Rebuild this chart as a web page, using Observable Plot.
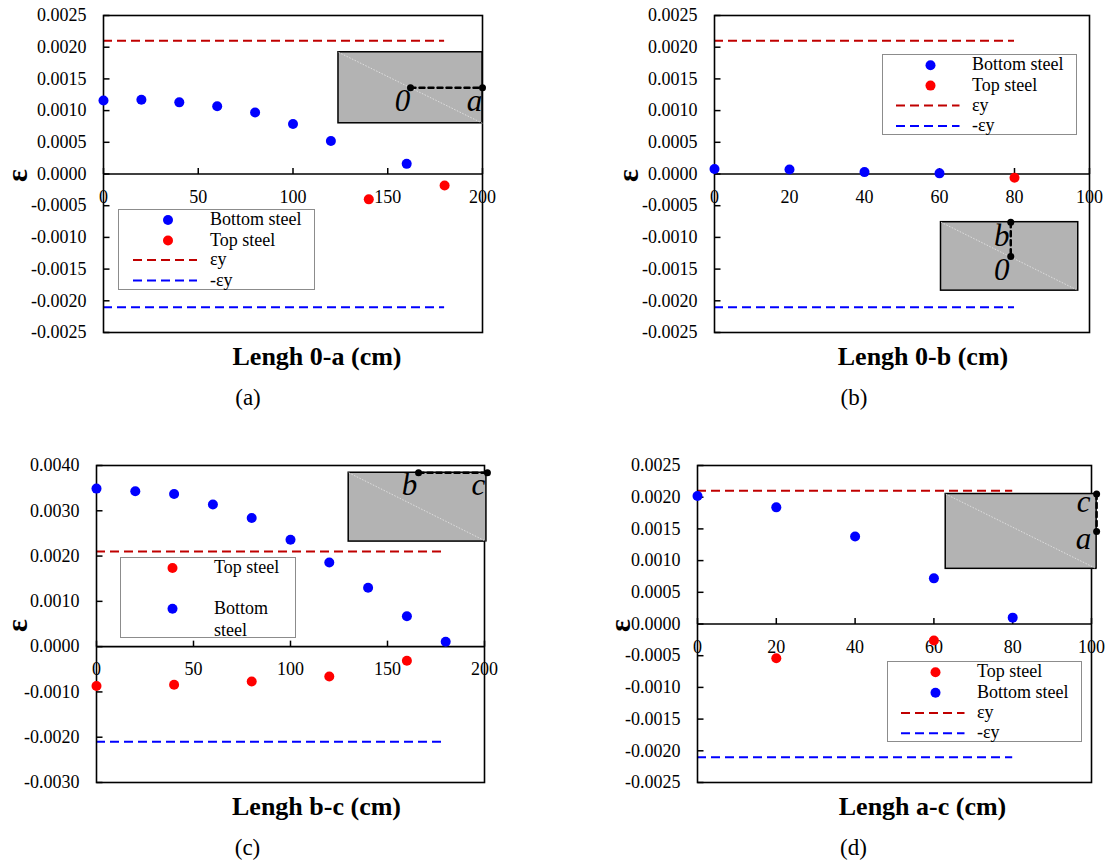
<!DOCTYPE html>
<html><head><meta charset="utf-8">
<script src="https://cdn.jsdelivr.net/npm/d3@7"></script>
<script src="https://cdn.jsdelivr.net/npm/@observablehq/plot@0.6"></script>
<style>
body{margin:0;background:#fff;}
#root{position:relative;width:1106px;height:868px;font-family:"Liberation Serif","DejaVu Serif",serif;background:#fff;}
.panel{position:absolute;}
.panel text{font-family:"Liberation Serif","DejaVu Serif",serif;}
.legend{position:absolute;border:1px solid #8c8c8c;background:#fff;box-sizing:border-box;}
.legend .lt{position:absolute;font-size:18px;line-height:22px;white-space:nowrap;color:#000;font-family:"Liberation Serif","DejaVu Serif",serif;}
.legend svg{position:absolute;left:0;top:0;overflow:visible;}
</style></head><body><div id="root"></div>
<script>
// ---------------- DATA ----------------
const yieldStrain = 0.0021;

// Panel (a): Lengh 0-a
const xBottomA = [0, 20, 40, 60, 80, 100, 120, 160];
const bottomA  = [0.00116, 0.00117, 0.00113, 0.00107, 0.00097, 0.00079, 0.00052, 0.00016];
const xTopA    = [140, 180];
const topA     = [-0.00040, -0.00018];
const yieldExtentA = [0, 180];

// Panel (b): Lengh 0-b
const xBottomB = [0, 20, 40, 60];
const bottomB  = [0.00008, 0.00007, 0.00003, 0.00001];
const xTopB    = [80];
const topB     = [-0.00006];
const yieldExtentB = [0, 80];

// Panel (c): Lengh b-c
const xBottomC = [0, 20, 40, 60, 80, 100, 120, 140, 160, 180];
const bottomC  = [0.00349, 0.00343, 0.00337, 0.00314, 0.00284, 0.00236, 0.00186, 0.00130, 0.00067, 0.00011];
const xTopC    = [0, 40, 80, 120, 160];
const topC     = [-0.00087, -0.00084, -0.00077, -0.00066, -0.00031];
const yieldExtentC = [0, 180];

// Panel (d): Lengh a-c
const xBottomD = [0, 20, 40, 60, 80];
const bottomD  = [0.00202, 0.00184, 0.00138, 0.00072, 0.00010];
const xTopD    = [20, 60];
const topD     = [-0.00054, -0.00026];
const yieldExtentD = [0, 80];

// Axis ticks
const yTicks25 = [-0.0025, -0.002, -0.0015, -0.001, -0.0005, 0, 0.0005, 0.001, 0.0015, 0.002, 0.0025];
const yTicksC  = [-0.003, -0.002, -0.001, 0, 0.001, 0.002, 0.003, 0.004];
const xTicks200 = [0, 50, 100, 150, 200];
const xTicks100 = [0, 20, 40, 60, 80, 100];

// Inset schematics (data units)
const insetRectA = {x1: 124, x2: 200, y1: 0.00080, y2: 0.00192};
const insetPtsA  = [{x: 162, y: 0.00136, label: "0"}, {x: 200, y: 0.00136, label: "a"}];
const insetRectB = {x1: 60.4, x2: 97, y1: -0.00184, y2: -0.00076};
const insetPtsB  = [{x: 79, y: -0.00076, label: "b"}, {x: 79, y: -0.00130, label: "0"}];
const insetRectC = {x1: 130, x2: 201, y1: 0.00232, y2: 0.00384};
const insetPtsC  = [{x: 166, y: 0.00384, label: "b"}, {x: 201.5, y: 0.00384, label: "c"}];
const insetRectD = {x1: 63, x2: 101.3, y1: 0.00087, y2: 0.00205};
const insetPtsD  = [{x: 101.3, y: 0.00205, label: "c"}, {x: 101.3, y: 0.00146, label: "a"}];

// Text
const titles   = ["Lengh 0-a (cm)", "Lengh 0-b (cm)", "Lengh b-c (cm)", "Lengh a-c (cm)"];
const captions = ["(a)", "(b)", "(c)", "(d)"];
const yLabel = "ε";
const seriesNames = {bottom: "Bottom steel", top: "Top steel", ey: "εy", ney: "-εy"};

// ---------------- STYLE ----------------
const BLUE = "#0000ff", RED = "#ff0000", DRED = "#c00000";
const FONT = "'Liberation Serif', 'DejaVu Serif', serif";

const tickRight = {draw(ctx) { ctx.moveTo(0, 0); ctx.lineTo(6, 0); }};
const tickUp = {draw(ctx) { ctx.moveTo(0, 0); ctx.lineTo(0, -6); }};

function pts(xs, ys) { return xs.map((x, i) => ({x, y: ys[i]})); }

function panel(cfg) {
  const marks = [
    Plot.ruleY([yieldStrain], {x1: cfg.extent[0], x2: cfg.extent[1], stroke: DRED, strokeWidth: 2, strokeDasharray: "9,5"}),
    Plot.ruleY([-yieldStrain], {x1: cfg.extent[0], x2: cfg.extent[1], stroke: BLUE, strokeWidth: 2, strokeDasharray: "9,5"}),
    Plot.ruleY([0], {stroke: "black", strokeWidth: 1.6}),
    Plot.frame({stroke: "black", strokeWidth: 1.6}),
    Plot.rect([cfg.rect], {x1: "x1", x2: "x2", y1: "y1", y2: "y2", fill: "#b3b3b3", stroke: "black", strokeWidth: 1.5}),
    Plot.link([cfg.rect], {x1: "x1", y1: "y2", x2: "x2", y2: "y1", stroke: "#e8e8e8", strokeWidth: 0.8, strokeDasharray: "1.5,1.5"}),
    Plot.line(cfg.insetPts, {x: "x", y: "y", stroke: "black", strokeWidth: 2.5, strokeDasharray: "5,4"}),
    Plot.dot(cfg.insetPts, {x: "x", y: "y", r: 3.5, fill: "black"}),
    Plot.text(cfg.insetPts, {x: "x", y: "y", text: "label", dx: cfg.labDx, dy: cfg.labDy, fontStyle: "italic", fontSize: 31, fill: "black"}),
    Plot.axisY(cfg.yTicks, {tickSize: 0, tickPadding: 17, tickFormat: (d) => d.toFixed(4), fontSize: 18, label: null}),
    Plot.dot(cfg.yTicks, {y: (d) => d, frameAnchor: "left", symbol: tickRight, fill: "none", stroke: "black", strokeWidth: 1.5}),
    Plot.dot(cfg.xTicks, {x: (d) => d, y: () => 0, symbol: tickUp, fill: "none", stroke: "black", strokeWidth: 1.5}),
    Plot.text(cfg.xTicks, {x: (d) => d, y: () => 0, dy: 23, text: (d) => String(d), fontSize: 18, fill: "black"}),
    Plot.dot(pts(cfg.xb, cfg.yb), {x: "x", y: "y", r: 5, fill: BLUE}),
    Plot.dot(pts(cfg.xt, cfg.yt), {x: "x", y: "y", r: 5, fill: RED}),
    Plot.text([yLabel], {frameAnchor: "left", dx: cfg.epsDx, dy: 8, rotate: -90, fontSize: 30, fontWeight: "bold", fill: "black"}),
    Plot.text([cfg.title], {frameAnchor: "bottom", dx: cfg.titleDx, dy: 32, fontSize: 26, fontWeight: "bold", fill: "black"}),
    Plot.text([cfg.caption], {frameAnchor: "bottom", dx: cfg.capDx, dy: 72, fontSize: 23, fill: "black"})
  ];
  const svg = Plot.plot({
    width: cfg.width, height: cfg.height,
    marginLeft: cfg.m[0], marginRight: cfg.m[1], marginTop: cfg.m[2], marginBottom: cfg.m[3],
    x: {domain: cfg.xDomain, axis: null},
    y: {domain: cfg.yDomain, axis: null},
    style: {fontFamily: FONT, fontSize: "18px", color: "black", background: "transparent", overflow: "visible"},
    marks
  });
  svg.classList.add("panel");
  svg.style.left = cfg.left + "px";
  svg.style.top = cfg.top + "px";
  document.getElementById("root").appendChild(svg);
}

function legend(cfg) {
  const div = document.createElement("div");
  div.className = "legend";
  Object.assign(div.style, {left: cfg.left + "px", top: cfg.top + "px", width: cfg.width + "px", height: cfg.height + "px"});
  const ns = "http://www.w3.org/2000/svg";
  const s = document.createElementNS(ns, "svg");
  s.setAttribute("width", cfg.width); s.setAttribute("height", cfg.height);
  div.appendChild(s);
  for (const r of cfg.rows) {
    if (r.kind === "dot") {
      const c = document.createElementNS(ns, "circle");
      c.setAttribute("cx", cfg.symX); c.setAttribute("cy", r.y); c.setAttribute("r", 5); c.setAttribute("fill", r.color);
      s.appendChild(c);
    } else {
      const l = document.createElementNS(ns, "line");
      l.setAttribute("x1", cfg.dash[0]); l.setAttribute("x2", cfg.dash[1]);
      l.setAttribute("y1", r.y); l.setAttribute("y2", r.y);
      l.setAttribute("stroke", r.color); l.setAttribute("stroke-width", 2); l.setAttribute("stroke-dasharray", "9,5");
      s.appendChild(l);
    }
    for (let i = 0; i < r.lines.length; i++) {
      const t = document.createElement("div");
      t.className = "lt";
      t.textContent = r.lines[i];
      t.style.left = cfg.textX + "px";
      t.style.top = (r.y - 12 + i * 22) + "px";
      div.appendChild(t);
    }
  }
  document.getElementById("root").appendChild(div);
}

panel({left: 0, top: 0, width: 553, height: 430, m: [103, 71, 15, 98],
  xDomain: [0, 200], yDomain: [-0.0025, 0.0025], yTicks: yTicks25, xTicks: xTicks200,
  xb: xBottomA, yb: bottomA, xt: xTopA, yt: topA, extent: yieldExtentA,
  rect: insetRectA, insetPts: insetPtsA, labDx: -8, labDy: 13, epsDx: -86,
  title: titles[0], caption: captions[0], titleDx: 24, capDx: -45});
panel({left: 553, top: 0, width: 553, height: 430, m: [161, 17, 15, 98],
  xDomain: [0, 100], yDomain: [-0.0025, 0.0025], yTicks: yTicks25, xTicks: xTicks100,
  xb: xBottomB, yb: bottomB, xt: xTopB, yt: topB, extent: yieldExtentB,
  rect: insetRectB, insetPts: insetPtsB, labDx: -9, labDy: 14, epsDx: -86,
  title: titles[1], caption: captions[1], titleDx: 21, capDx: -48});
panel({left: 0, top: 430, width: 553, height: 438, m: [96, 69, 35, 86],
  xDomain: [0, 200], yDomain: [-0.003, 0.004], yTicks: yTicksC, xTicks: xTicks200,
  xb: xBottomC, yb: bottomC, xt: xTopC, yt: topC, extent: yieldExtentC,
  rect: insetRectC, insetPts: insetPtsC, labDx: -9, labDy: 12, epsDx: -79,
  title: titles[2], caption: captions[2], titleDx: 26, capDx: -43});
panel({left: 553, top: 430, width: 553, height: 438, m: [144, 15, 35, 86],
  xDomain: [0, 100], yDomain: [-0.0025, 0.0025], yTicks: yTicks25, xTicks: xTicks100,
  xb: xBottomD, yb: bottomD, xt: xTopD, yt: topD, extent: yieldExtentD,
  rect: insetRectD, insetPts: insetPtsD, labDx: -13, labDy: 8, epsDx: -77,
  title: titles[3], caption: captions[3], titleDx: 28, capDx: -41});

legend({left: 118, top: 209, width: 197, height: 81, symX: 49, dash: [14, 78], textX: 91, rows: [
  {kind: "dot", color: BLUE, y: 10, lines: [seriesNames.bottom]},
  {kind: "dot", color: RED, y: 30.5, lines: [seriesNames.top]},
  {kind: "dash", color: DRED, y: 50, lines: [seriesNames.ey]},
  {kind: "dash", color: BLUE, y: 70.5, lines: [seriesNames.ney]}]});
legend({left: 882, top: 54, width: 195, height: 81, symX: 47.5, dash: [13, 76.5], textX: 89, rows: [
  {kind: "dot", color: BLUE, y: 10.3, lines: [seriesNames.bottom]},
  {kind: "dot", color: RED, y: 30.6, lines: [seriesNames.top]},
  {kind: "dash", color: DRED, y: 50.6, lines: [seriesNames.ey]},
  {kind: "dash", color: BLUE, y: 71, lines: [seriesNames.ney]}]});
legend({left: 120, top: 557, width: 176, height: 81, symX: 51.5, dash: [14, 78], textX: 93, rows: [
  {kind: "dot", color: RED, y: 10, lines: [seriesNames.top]},
  {kind: "dot", color: BLUE, y: 50.7, lines: ["Bottom", "steel"]}]});
legend({left: 887, top: 661, width: 195, height: 81, symX: 47.5, dash: [13, 76.5], textX: 89, rows: [
  {kind: "dot", color: RED, y: 10.3, lines: [seriesNames.top]},
  {kind: "dot", color: BLUE, y: 30.7, lines: [seriesNames.bottom]},
  {kind: "dash", color: DRED, y: 51, lines: [seriesNames.ey]},
  {kind: "dash", color: BLUE, y: 71.3, lines: [seriesNames.ney]}]});
</script></body></html>
